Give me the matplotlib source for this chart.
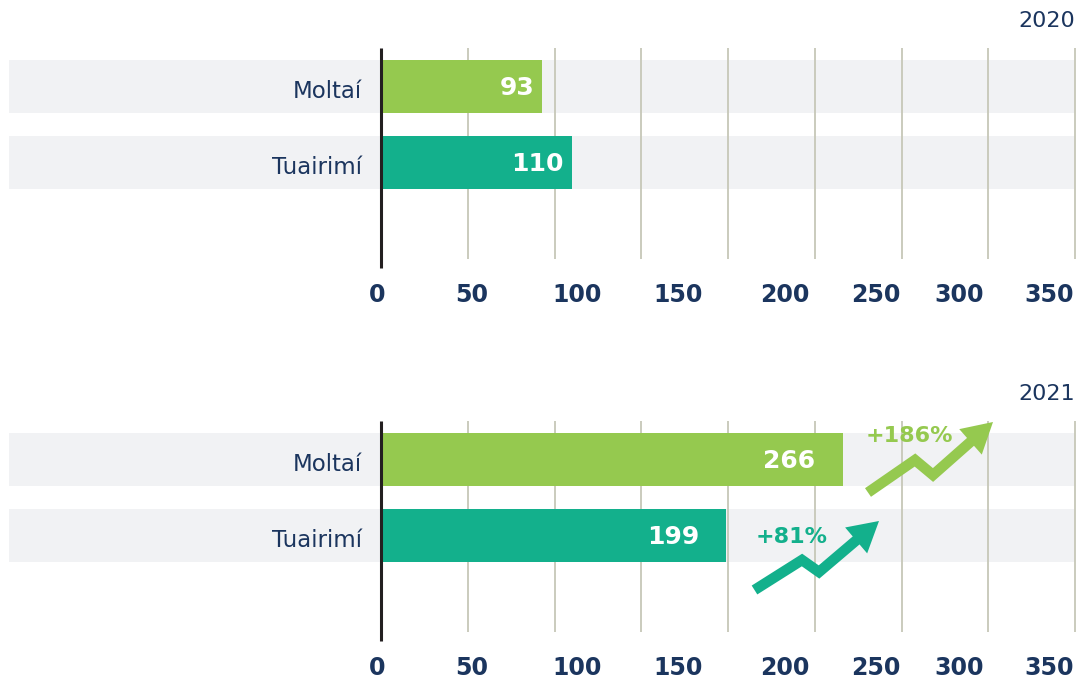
import matplotlib
matplotlib.use('Agg')
import matplotlib.pyplot as plt
from matplotlib.patches import Polygon
from matplotlib.lines import Line2D
import numpy as np

# ---------------- data ----------------
categories = ['Moltaí', 'Tuairimí']
values_2020 = [93, 110]
values_2021 = [266, 199]
years = ['2020', '2021']
tick_labels = ['0', '50', '100', '150', '200', '250', '300', '350']
growth_labels = ['+186%', '+81%']

# ---------------- style ----------------
GREEN = '#95C94F'
TEAL = '#13B08C'
NAVY = '#1B355E'
BAND = '#F1F2F4'
GRID = '#C6C7B8'
AXIS = '#231F20'
bar_colors = [GREEN, TEAL]
plt.rcParams['font.family'] = ['DejaVu Sans']

W, H = 1079, 678
fig = plt.figure(figsize=(W / 100, H / 100), dpi=100)

PX_PER_UNIT = 694 / 400.0        # 0 at x=381px, 400 at x=1075px
ROW_PX = 76.0
X_LEFT = -381 / PX_PER_UNIT
X_RIGHT = (W - 381) / PX_PER_UNIT
Y_TOP = -86.5 / ROW_PX
Y_BOT = (305 - 86.5) / ROW_PX
BAR_H = 53 / ROW_PX
BAND_LEFT = (9 - 381) / PX_PER_UNIT
GRID_MAX = 400
# tick label positions (as drawn in the reference, not aligned to grid)
tick_label_x = [-2, 52, 113, 171, 233, 285, 333, 385]


def draw_panel(ax, values, year, pad_px):
    rows = np.arange(len(categories))
    ax.set_xlim(X_LEFT, X_RIGHT)
    ax.set_ylim(Y_BOT, Y_TOP)
    ax.axis('off')
    # background bands
    ax.barh(rows, GRID_MAX - BAND_LEFT, left=BAND_LEFT, height=BAR_H,
            color=BAND, zorder=0)
    # gridlines
    ax.vlines(np.arange(50, GRID_MAX + 1, 50), -0.507, 2.27, color=GRID,
              lw=1.3, zorder=1)
    # bars
    ax.barh(rows, values, height=BAR_H, color=bar_colors, zorder=2)
    # axis line
    ax.vlines(0, -0.507, 2.39, color=AXIS, lw=2.2, zorder=4)
    # labels
    for r, v, c in zip(rows, values, categories):
        ax.text(v - pad_px / PX_PER_UNIT, r + 0.02, str(v), ha='right',
                va='center', color='white', fontsize=18, fontweight='bold',
                zorder=5)
        ax.text(-11, r + 0.06, c, ha='right', va='center', color=NAVY,
                fontsize=16.5)
    for x, lbl in zip(tick_label_x, tick_labels):
        ax.text(x, 2.74, lbl, ha='center', va='center', color=NAVY,
                fontsize=17, fontweight='bold')
    ax.text(GRID_MAX, -0.86, year, ha='right', va='center', color=NAVY,
            fontsize=16)


ax1 = fig.add_axes([0, (H - 305) / H, 1, 305 / H])
ax2 = fig.add_axes([0, 0, 1, 305 / H])
draw_panel(ax1, values_2020, years[0], 8)
draw_panel(ax2, values_2021, years[1], 27)


# ---------------- growth arrows (decoration, image pixel coords) ----------------
def fp(x, y):
    return (x / W, 1 - y / H)


def zig_arrow(points, color, lw_px=10.5, head_len=30, head_half=17):
    pts = np.array(points, dtype=float)
    tip = pts[-1]
    d = tip - pts[-2]
    d /= np.linalg.norm(d)
    perp = np.array([-d[1], d[0]])
    base = tip - d * head_len
    shaft = np.vstack([pts[:-1], base + d * 2])
    fx = [fp(*p) for p in shaft]
    fig.add_artist(Line2D([p[0] for p in fx], [p[1] for p in fx],
                          lw=lw_px * 0.72, color=color,
                          solid_joinstyle='miter', solid_capstyle='butt'))
    head = [fp(*tip), fp(*(base + perp * head_half)), fp(*(base - perp * head_half))]
    fig.add_artist(Polygon(head, closed=True, color=color, lw=0))


zig_arrow([(868, 492.5), (915, 460), (933, 475), (993, 422)], GREEN)
zig_arrow([(754.5, 590), (802, 560), (819, 572), (879, 521)], TEAL)

fig.text(*fp(909, 436), growth_labels[0], ha='center', va='center',
         color=GREEN, fontsize=16, fontweight='bold')
fig.text(*fp(792, 537), growth_labels[1], ha='center', va='center',
         color=TEAL, fontsize=16, fontweight='bold')

fig.savefig('out.png', dpi=100)
